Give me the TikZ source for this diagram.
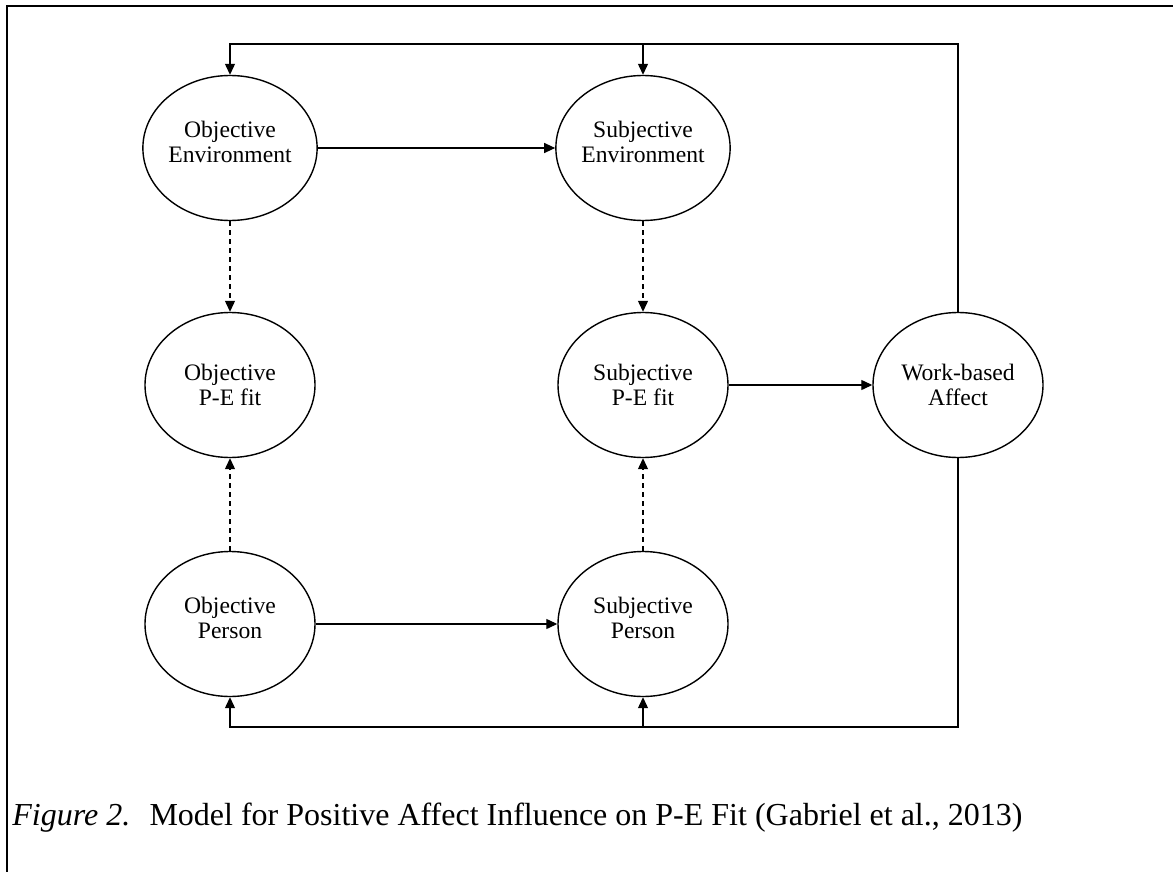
\documentclass[tikz,border=0pt]{standalone}
\usepackage{fontspec}
\setmainfont{Liberation Serif}
\usetikzlibrary{positioning,shapes.geometric,arrows.meta}

\begin{document}
\begin{tikzpicture}[x=0.5pt,y=-0.5pt,
  construct/.style={draw, ellipse, line width=0.7pt, minimum width=85pt,
    minimum height=72.5pt, inner sep=0pt, align=center,
    font=\fontsize{11.8}{12.5}\selectfont},
  highset/.style={text depth=6.5pt},
  link/.style={-{Triangle[length=5.5pt,width=5pt]}, line width=0.6pt},
  dashlink/.style={link, dash pattern=on 2.5pt off 2pt}]
\useasboundingbox (0,0) rectangle (1173,872);
% frame of the figure
\draw[line width=1pt] (7,880) |- (1180,6);

% constructs
\node[construct, highset] (objenv) at (230,148) {Objective\\Environment};
\node[construct, highset] (subenv) at (643,148) {Subjective\\Environment};
\node[construct] (objfit) at (230,385) {Objective\\P-E fit};
\node[construct] (subfit) at (643,385) {Subjective\\P-E fit};
\node[construct] (affect) at (958,385) {Work-based\\Affect};
\node[construct, highset] (objper) at (230,624) {Objective\\Person};
\node[construct, highset] (subper) at (643,624) {Subjective\\Person};

% direct paths
\draw[link] (objenv) -- (subenv);
\draw[link] (objper) -- (subper);
\draw[link] (subfit) -- (affect);
\draw[dashlink] (objenv) -- (objfit);
\draw[dashlink] (subenv) -- (subfit);
\draw[dashlink] (objper) -- (objfit);
\draw[dashlink] (subper) -- (subfit);

% feedback from affect
\coordinate (toprail) at (958,44);
\coordinate (botrail) at (958,727);
\draw[link] (affect.north) -- (toprail) -| (objenv.north);
\draw[link] (subenv.north |- toprail) -- (subenv.north);
\draw[link] (affect.south) -- (botrail) -| (objper.south);
\draw[link] (subper.south |- botrail) -- (subper.south);

% caption
\node[anchor=base west, inner sep=0pt, font=\fontsize{16}{19}\selectfont]
  (caption) at (12,825)
  {\textit{Figure 2.}\hspace{0.6em}Model for Positive Affect Influence on P-E Fit (Gabriel et al., 2013)};
\end{tikzpicture}
\end{document}
